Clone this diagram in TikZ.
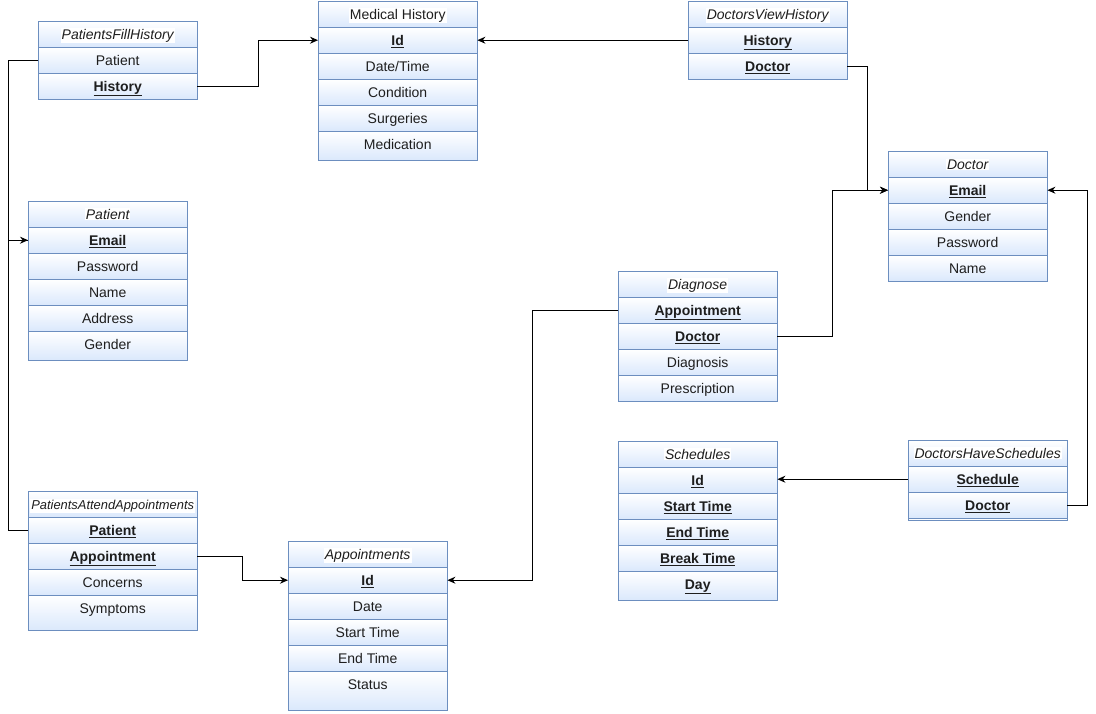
\documentclass[tikz,border=0pt]{standalone}
\usepackage{fontspec}
\setmainfont{Liberation Sans}
\usetikzlibrary{arrows.meta,shadings}
\definecolor{bcol}{RGB}{108,142,191}
\definecolor{fcol}{RGB}{218,232,252}
\definecolor{tcol}{RGB}{30,30,30}
\newcommand\kk[1]{\textbf{\underline{#1}}}
\newcommand\hh[1]{{\setlength\fboxsep{1pt}\colorbox{white}{#1}}}
\tikzset{
  cellbg/.style={draw=bcol, line width=0.9pt, top color=white, bottom color=fcol,
    inner sep=0pt, minimum height=26pt},
  celltx/.style={inner sep=0pt, minimum height=26pt, text=tcol,
    text height=11pt, text depth=1pt,
    font=\fontsize{14}{16}\selectfont},
  conn/.style={draw=black, line width=1pt, -{Stealth[length=8pt,width=7pt]}},
  link/.style={draw=black, line width=1pt}
}
% #1 name, #2 x, #3 ytop, #4 width, #5 header, #6 rows, #7 number of rows, #8 extra height of last row
\newcommand\ertable[8]{%
  \node[cellbg, minimum width=#4pt, anchor=north west] at (#2,#3) {};
  \node[celltx, minimum width=#4pt, anchor=north west] (#1-0) at (#2,#3) {\hh{#5}};
  \foreach \t [count=\i] in {#6} {
    \pgfmathsetmacro\hgt{\i==#7 ? 26+#8 : 26}
    \node[cellbg, minimum width=#4pt, minimum height=\hgt pt, anchor=north west] at (#2,#3+26*\i) {};
    \node[celltx, minimum width=#4pt, anchor=north west] (#1-\i) at (#2,#3+26*\i) {\t};
  }%
}
\begin{document}
\begin{tikzpicture}[x=1pt,y=-1pt]
\useasboundingbox (0,0) rectangle (1096,714);

\ertable{pfh}{38}{21}{159}{\itshape PatientsFillHistory}{Patient,\kk{History}}{2}{0}
\ertable{mh}{318}{1}{159}{Medical History}{\kk{Id},Date/Time,Condition,Surgeries,Medication}{5}{3}
\ertable{dvh}{688}{1}{159}{\itshape DoctorsViewHistory}{\kk{History},\kk{Doctor}}{2}{0}
\ertable{doc}{888}{151}{159}{\itshape Doctor}{\kk{Email},Gender,Password,Name}{4}{0}
\ertable{pat}{28}{201}{159}{\itshape Patient}{\kk{Email},Password,Name,Address,Gender}{5}{3}
\ertable{dia}{618}{271}{159}{\itshape Diagnose}{\kk{Appointment},\kk{Doctor},Diagnosis,Prescription}{4}{0}
\ertable{sch}{618}{441}{159}{\itshape Schedules}{\kk{Id},\kk{Start Time},\kk{End Time},\kk{Break Time},\kk{Day}}{5}{3}
\ertable{dhs}{908}{440}{159}{\itshape DoctorsHaveSchedules}{\kk{Schedule},\kk{Doctor}}{2}{0}
\node[cellbg, minimum width=159pt, minimum height=2pt, anchor=north] (dhs-x) at (dhs-2.south) {};
\ertable{paa}{28}{491}{169}{\fontsize{12.9}{15}\selectfont\itshape PatientsAttendAppointments}{\kk{Patient},\kk{Appointment},Concerns,Symptoms}{4}{9}
\ertable{app}{288}{541}{159}{\itshape Appointments}{\kk{Id},Date,Start Time,End Time,Status}{5}{13}

% connectors
\draw[conn] (pfh-2.east) -- ++(61,0) |- (mh-1.west);
\draw[conn] (dvh-1.west) -- (mh-1.east);
\draw[conn] (dvh-2.east) -- ++(20,0) |- (doc-1.west);
\draw[conn] (pfh-1.west) -- ++(-30,0) |- (pat-1.west);
\draw[link] (paa-1.west) -- ++(-20,0) |- (pat-1.west);
\draw[conn] (paa-2.east) -- ++(45,0) |- (app-1.west);
\draw[conn] (dia-1.west) -- ++(-86,0) |- (app-1.east);
\draw[conn] (dia-2.east) -- ++(55,0) |- (doc-1.west);
\draw[conn] (dhs-1.west) -- (dhs-1.west -| sch-1.east);
\draw[conn] (dhs-2.east) -- ++(20,0) |- (doc-1.east);
\end{tikzpicture}
\end{document}
